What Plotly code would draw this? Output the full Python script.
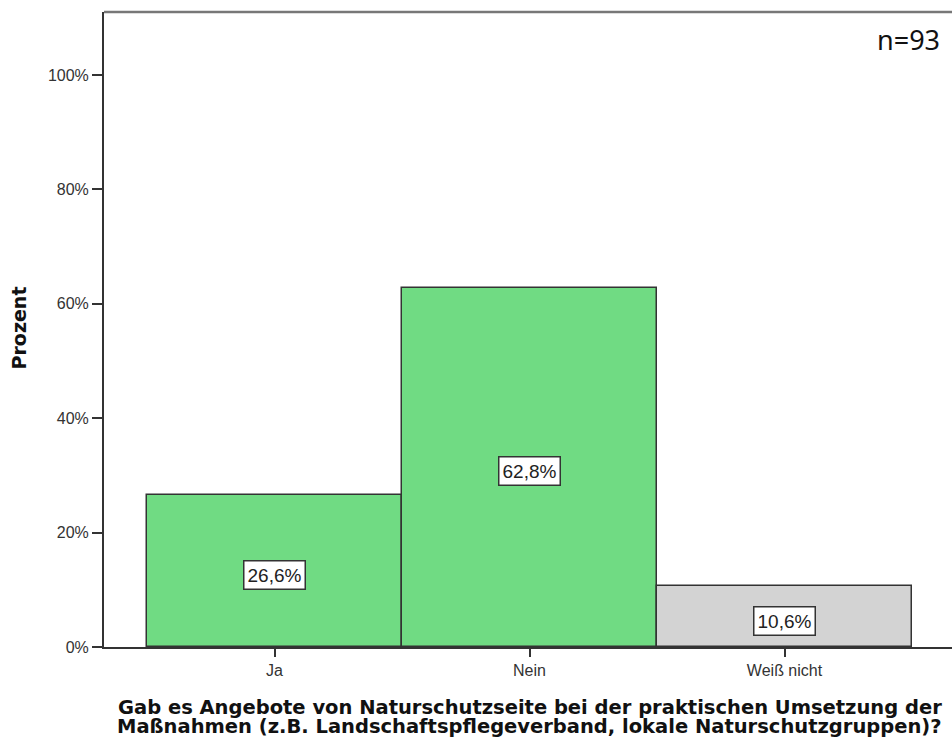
import plotly.graph_objects as go

# Survey answers (percent of respondents, n=93)
categories = ["Ja", "Nein", "Weiß nicht"]
percent = [26.6, 62.8, 10.6]
bar_colors = ["#70DB83", "#70DB83", "#D3D3D3"]
value_labels = ["26,6%", "62,8%", "10,6%"]
y_ticks = [0, 20, 40, 60, 80, 100]
y_tick_text = ["0%", "20%", "40%", "60%", "80%", "100%"]
sample_note = "n=93"
x_title_lines = [
    "Gab es Angebote von Naturschutzseite bei der praktischen Umsetzung der",
    "Maßnahmen (z.B. Landschaftspflegeverband, lokale Naturschutzgruppen)?",
]
y_title = "Prozent"

axis_col = "#333333"

fig = go.Figure()
fig.add_trace(go.Bar(
    x=list(range(len(categories))),
    y=percent,
    width=1.0,
    marker=dict(color=bar_colors, line=dict(color=axis_col, width=1.5)),
    hoverinfo="skip",
))

# boxed value labels in the middle of each bar
for i, (v, lab) in enumerate(zip(percent, value_labels)):
    fig.add_annotation(
        x=i, y=v / 2, text=lab, showarrow=False, yshift=-4,
        font=dict(family="Liberation Sans, Arial", size=19, color="#222222"),
        bgcolor="white", bordercolor=axis_col, borderwidth=1.5, borderpad=3,
    )

fig.add_annotation(
    xref="paper", yref="paper", x=0.988, y=0.957, xanchor="right", yanchor="middle",
    text=sample_note, showarrow=False,
    font=dict(family="Noto Sans, Open Sans", size=27, color="#111111"),
)

fig.add_annotation(
    xref="paper", yref="paper", x=-0.1, y=0.502, xanchor="center", yanchor="middle",
    text="<b>" + y_title + "</b>", textangle=-90, showarrow=False,
    font=dict(family="DejaVu Sans", size=19, color="#111111"),
)

# two-line axis title, set tight like the original layout
for k, line in enumerate(x_title_lines):
    fig.add_annotation(
        xref="paper", yref="paper", x=0.502, y=-0.096 - 0.0299 * k,
        xanchor="center", yanchor="middle",
        text="<b>" + line + "</b>", showarrow=False,
        font=dict(family="DejaVu Sans", size=19.5, color="#111111"),
    )

fig.update_layout(
    width=952, height=742,
    margin=dict(l=104, r=0, t=12, b=95),
    paper_bgcolor="white", plot_bgcolor="white",
    showlegend=False, bargap=0,
    xaxis=dict(
        range=[-0.5 - 43 / 255, 2.5 + 40 / 255],
        tickmode="array", tickvals=list(range(len(categories))), ticktext=categories,
        ticks="outside", ticklen=8, tickwidth=2, tickcolor=axis_col,
        showline=True, linecolor=axis_col, linewidth=2, mirror=False,
        showgrid=False, zeroline=False,
        tickfont=dict(family="Liberation Sans, Arial", size=16, color="#333333"),
    ),
    yaxis=dict(
        range=[0, 111],
        tickmode="array", tickvals=y_ticks, ticktext=y_tick_text,
        ticks="outside", ticklen=10, tickwidth=2, tickcolor=axis_col,
        showline=True, linecolor=axis_col, linewidth=2,
        showgrid=False, zeroline=False,
        tickfont=dict(family="Liberation Sans, Arial", size=16, color="#333333"),
    ),
)

# top frame line of the plot area
fig.add_shape(type="line", xref="paper", yref="paper", x0=0, x1=1, y0=1, y1=1,
              line=dict(color="#777777", width=2.5))

fig.write_html("out.html")
